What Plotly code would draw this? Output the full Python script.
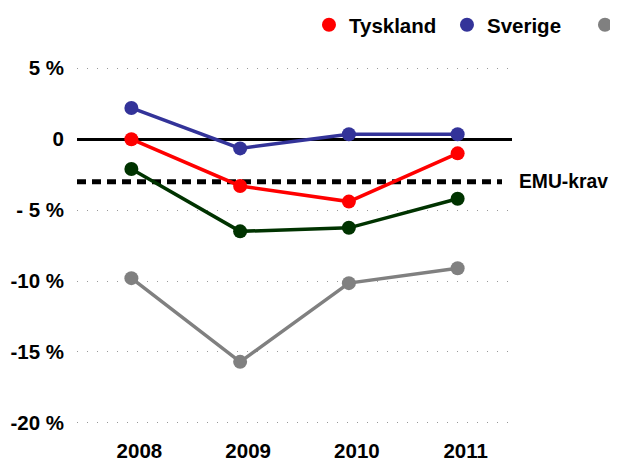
import plotly.graph_objects as go

years = ["2008", "2009", "2010", "2011"]
tyskland = [0.0, -3.3, -4.4, -1.0]
sverige = [2.2, -0.65, 0.35, 0.35]
gron = [-2.1, -6.5, -6.25, -4.2]
gra = [-9.8, -15.7, -10.15, -9.1]
emu_krav = -3.0
ytick_vals = [5, 0, -5, -10, -15, -20]
ytick_text = ["5 %", "0", "- 5 %", "-10 %", "-15 %", "-20 %"]

FONT = "Liberation Sans, Arial, sans-serif"
FS = 20.5

series = [
    (" ", gra, "#808080", True, 3),
    ("", gron, "#003300", False, 4),
    ("Tyskland", tyskland, "#FF0000", True, 1),
    ("Sverige", sverige, "#333399", True, 2),
]

fig = go.Figure()
for name, vals, color, leg, rank in series:
    fig.add_trace(go.Scatter(x=years, y=vals, mode="lines",
                             line=dict(color=color, width=3.5),
                             showlegend=False, hoverinfo="skip"))
    fig.add_trace(go.Scatter(x=years, y=vals, mode="markers", name=name,
                             marker=dict(color=color, size=14),
                             showlegend=leg, legendrank=rank))

fig.add_shape(type="line", xref="paper", yref="y", x0=0, x1=0.977,
              y0=emu_krav, y1=emu_krav,
              line=dict(color="black", width=5, dash="9px,6px"), layer="below")
fig.add_annotation(xref="paper", yref="y", x=1.012, y=emu_krav, text="EMU-krav",
                   showarrow=False, xanchor="left", yanchor="middle",
                   font=dict(family=FONT, size=19.3, color="black", weight="bold"))

# page body has an 8px margin, so the figure is shrunk/shifted to compensate
fig.update_layout(
    width=610, height=453,
    margin=dict(l=69, r=106, t=39, b=24, autoexpand=False),
    paper_bgcolor="white", plot_bgcolor="white",
    font=dict(family=FONT, size=FS, color="black", weight="bold"),
    legend=dict(orientation="h", xref="container", yref="container",
                x=0.4934, y=0.9625, xanchor="left", yanchor="middle",
                font=dict(family=FONT, size=FS, color="black", weight="bold"),
                itemwidth=30, entrywidth=93, bgcolor="rgba(0,0,0,0)"),
)
fig.update_xaxes(type="category", range=[-0.5, 3.5], showgrid=False,
                 showline=False, zeroline=False, ticks="",
                 ticklabelstandoff=-1, ticklabelshift=8,
                 tickfont=dict(family=FONT, size=FS, color="black", weight="bold"))
fig.update_yaxes(range=[-21, 6.5], tickvals=ytick_vals, ticktext=ytick_text,
                 showgrid=True, gridcolor="#999999", gridwidth=1, griddash="1px,9px",
                 zeroline=True, zerolinecolor="black", zerolinewidth=3,
                 showline=False, ticks="", ticklabelstandoff=12,
                 tickfont=dict(family=FONT, size=FS, color="black", weight="bold"))

fig.write_html("out.html")
